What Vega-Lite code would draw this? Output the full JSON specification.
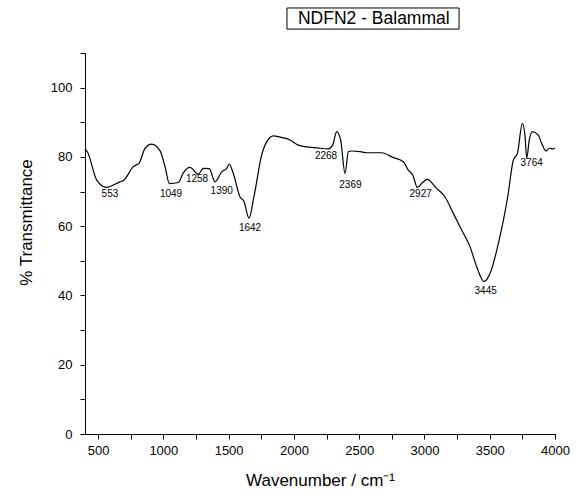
{
  "$schema": "https://vega.github.io/schema/vega-lite/v6.json",
  "width": 470,
  "height": 381,
  "autosize": {"type": "none"},
  "padding": {"left": 85, "top": 53, "right": 31, "bottom": 64},
  "background": "white",
  "config": {"view": {"stroke": null}, "font": "Liberation Sans"},
  "datasets": {
    "spectrum": [
      {"wavenumber": 400, "T": 82.3}, {"wavenumber": 418, "T": 81.5}, {"wavenumber": 490, "T": 73.3},
      {"wavenumber": 566, "T": 71.2}, {"wavenumber": 668, "T": 72.8}, {"wavenumber": 693, "T": 73.1},
      {"wavenumber": 770, "T": 77.2}, {"wavenumber": 816, "T": 78.3}, {"wavenumber": 860, "T": 82.5},
      {"wavenumber": 911, "T": 83.7}, {"wavenumber": 974, "T": 81.8}, {"wavenumber": 1013, "T": 77.2},
      {"wavenumber": 1046, "T": 72.3}, {"wavenumber": 1115, "T": 72.6}, {"wavenumber": 1153, "T": 75.4},
      {"wavenumber": 1204, "T": 77.0}, {"wavenumber": 1268, "T": 75.0}, {"wavenumber": 1306, "T": 76.7},
      {"wavenumber": 1352, "T": 76.6}, {"wavenumber": 1396, "T": 72.8}, {"wavenumber": 1447, "T": 75.7},
      {"wavenumber": 1485, "T": 76.7}, {"wavenumber": 1505, "T": 77.9}, {"wavenumber": 1536, "T": 75.2},
      {"wavenumber": 1587, "T": 68.5}, {"wavenumber": 1618, "T": 67.1}, {"wavenumber": 1656, "T": 62.3},
      {"wavenumber": 1694, "T": 68.5}, {"wavenumber": 1753, "T": 80.5}, {"wavenumber": 1792, "T": 84.4},
      {"wavenumber": 1843, "T": 86.1}, {"wavenumber": 1894, "T": 85.7}, {"wavenumber": 1970, "T": 84.9},
      {"wavenumber": 2034, "T": 83.4}, {"wavenumber": 2098, "T": 82.9}, {"wavenumber": 2200, "T": 82.5},
      {"wavenumber": 2264, "T": 82.3}, {"wavenumber": 2297, "T": 83.4}, {"wavenumber": 2328, "T": 87.3},
      {"wavenumber": 2358, "T": 84.9}, {"wavenumber": 2392, "T": 75.2}, {"wavenumber": 2417, "T": 81.5},
      {"wavenumber": 2443, "T": 81.7}, {"wavenumber": 2507, "T": 81.5}, {"wavenumber": 2558, "T": 81.2},
      {"wavenumber": 2672, "T": 81.2}, {"wavenumber": 2762, "T": 79.8}, {"wavenumber": 2838, "T": 78.6},
      {"wavenumber": 2876, "T": 76.2}, {"wavenumber": 2910, "T": 74.8}, {"wavenumber": 2946, "T": 71.2},
      {"wavenumber": 2986, "T": 72.6}, {"wavenumber": 3022, "T": 73.5}, {"wavenumber": 3093, "T": 70.9},
      {"wavenumber": 3157, "T": 68.5}, {"wavenumber": 3221, "T": 63.7}, {"wavenumber": 3285, "T": 58.9},
      {"wavenumber": 3349, "T": 54.1}, {"wavenumber": 3400, "T": 48.3}, {"wavenumber": 3456, "T": 44.0},
      {"wavenumber": 3508, "T": 46.9}, {"wavenumber": 3554, "T": 53.1}, {"wavenumber": 3600, "T": 60.8},
      {"wavenumber": 3638, "T": 68.5}, {"wavenumber": 3681, "T": 79.1}, {"wavenumber": 3712, "T": 81.0},
      {"wavenumber": 3750, "T": 89.7}, {"wavenumber": 3771, "T": 85.8}, {"wavenumber": 3783, "T": 79.6},
      {"wavenumber": 3803, "T": 84.9}, {"wavenumber": 3826, "T": 87.3}, {"wavenumber": 3872, "T": 86.3},
      {"wavenumber": 3898, "T": 83.9}, {"wavenumber": 3931, "T": 81.7}, {"wavenumber": 3957, "T": 82.5},
      {"wavenumber": 3987, "T": 82.3}, {"wavenumber": 4000, "T": 82.6}
    ],
    "peaks": [
      {"peak": "553", "wavenumber": 591, "T": 69.3},
      {"peak": "1049", "wavenumber": 1059, "T": 69.3},
      {"peak": "1258", "wavenumber": 1258, "T": 73.6},
      {"peak": "1390", "wavenumber": 1447, "T": 70.2},
      {"peak": "1642", "wavenumber": 1664, "T": 59.6},
      {"peak": "2268", "wavenumber": 2246, "T": 80.4},
      {"peak": "2369", "wavenumber": 2433, "T": 71.9},
      {"peak": "2927", "wavenumber": 2971, "T": 69.3},
      {"peak": "3445", "wavenumber": 3469, "T": 41.4},
      {"peak": "3764", "wavenumber": 3821, "T": 78.3}
    ],
    "heading": [
      {"label": "NDFN2 - Balammal", "wavenumber": 2612, "T": 119.7}
    ]
  },
  "encoding": {
    "x": {"field": "wavenumber", "type": "quantitative",
      "scale": {"domain": [400, 4000], "nice": false, "zero": false},
      "axis": {"values": [500, 750, 1000, 1250, 1500, 1750, 2000, 2250, 2500, 2750, 3000, 3250, 3500, 3750, 4000],
        "labelExpr": "datum.value % 500 == 0 ? datum.label : ''", "format": "d", "labelFlush": false, "labelOverlap": false,
        "grid": false, "tickSize": 5, "tickColor": "black", "domainColor": "black", "labelColor": "black",
        "labelFontSize": 13, "labelPadding": 5, "labelFont": "Liberation Sans",
        "title": "Wavenumber / cm⁻¹", "titleFontSize": 17, "titleFontWeight": "normal", "titleColor": "black",
        "titleFont": "Liberation Sans", "titlePadding": 15}},
    "y": {"field": "T", "type": "quantitative",
      "scale": {"domain": [0, 110], "nice": false},
      "axis": {"values": [0, 10, 20, 30, 40, 50, 60, 70, 80, 90, 100, 110],
        "labelExpr": "datum.value % 20 == 0 && datum.value <= 100 ? datum.label : ''", "labelFlush": false, "labelOverlap": false,
        "grid": false, "tickSize": 5, "tickColor": "black", "domainColor": "black", "labelColor": "black",
        "labelFontSize": 13, "labelPadding": 8, "labelFont": "Liberation Sans",
        "title": "% Transmittance", "titleFontSize": 17, "titleFontWeight": "normal", "titleColor": "black",
        "titleFont": "Liberation Sans", "titleX": -59, "titleY": 169, "titleAlign": "center", "titleBaseline": "middle", "titleAngle": 270}}
  },
  "layer": [
    {
      "data": {"name": "heading"},
      "mark": {"type": "rect", "fill": "white", "stroke": "black", "strokeWidth": 1, "clip": false},
      "encoding": {
        "x": {"datum": 1947, "type": "quantitative"},
        "x2": {"datum": 3265},
        "y": {"datum": 116.9, "type": "quantitative"},
        "y2": {"datum": 123}
      }
    },
    {
      "data": {"name": "heading"},
      "mark": {"type": "text", "fontSize": 17.5, "font": "Liberation Sans", "color": "black", "align": "center", "baseline": "middle", "clip": false},
      "encoding": {"text": {"field": "label"}}
    },
    {
      "data": {"name": "spectrum"},
      "mark": {"type": "line", "color": "black", "strokeWidth": 1.2, "interpolate": "monotone"}
    },
    {
      "data": {"name": "peaks"},
      "mark": {"type": "text", "fontSize": 10, "font": "Liberation Sans", "color": "black", "align": "center", "baseline": "middle"},
      "encoding": {"text": {"field": "peak"}}
    }
  ]
}
